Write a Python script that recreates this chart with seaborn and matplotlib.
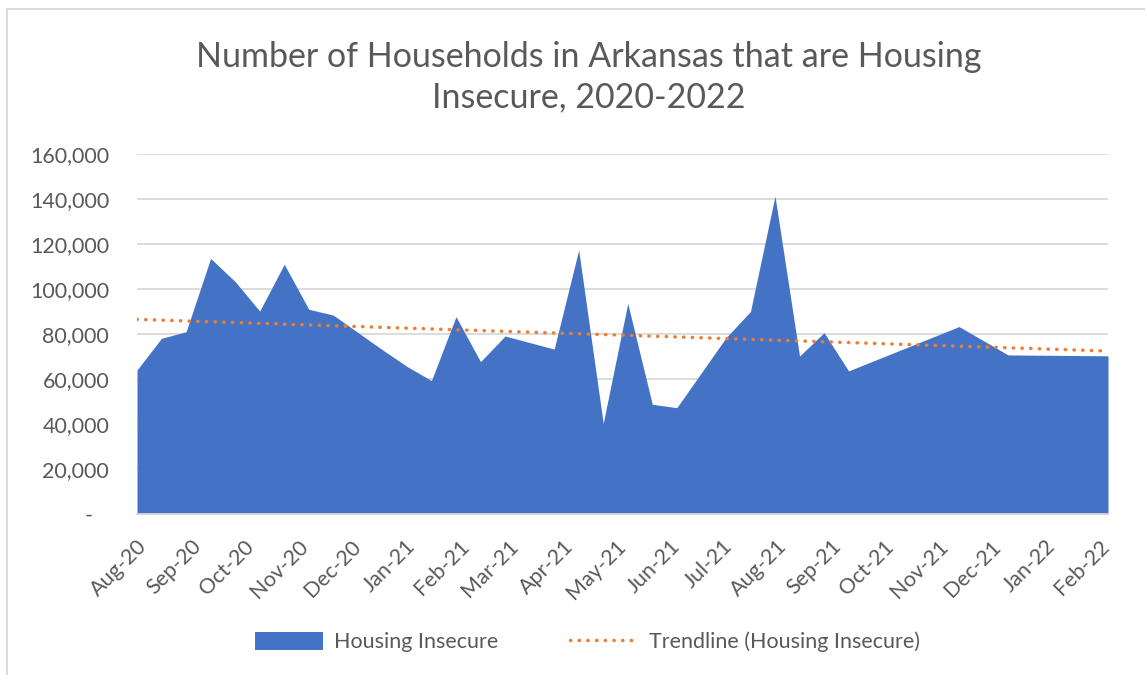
import numpy as np
import pandas as pd
import matplotlib.pyplot as plt
import matplotlib.dates as mdates
from matplotlib.lines import Line2D
from matplotlib.patches import Patch
import seaborn as sns

# survey week dates and number of housing insecure households
dates = ["2020-08-19", "2020-09-02", "2020-09-16", "2020-09-30", "2020-10-14",
         "2020-10-28", "2020-11-11", "2020-11-25", "2020-12-09", "2021-01-06",
         "2021-01-20", "2021-02-03", "2021-02-17", "2021-03-03", "2021-03-17",
         "2021-04-14", "2021-04-28", "2021-05-12", "2021-05-26", "2021-06-09",
         "2021-06-23", "2021-07-21", "2021-08-04", "2021-08-18", "2021-09-01",
         "2021-09-15", "2021-09-29", "2021-12-01", "2021-12-29", "2022-01-26",
         "2022-02-24"]
households = [64000, 78100, 81000, 113600, 103300,
              90200, 111000, 91000, 88400, 73000,
              65600, 59300, 87700, 67700, 79100,
              73300, 117300, 40300, 93600, 48750,
              47250, 78300, 90000, 141300, 70200,
              80600, 63600, 83300, 70700, 70500,
              70300]
y_ticks = [0, 20000, 40000, 60000, 80000, 100000, 120000, 140000, 160000]
title = "Number of Households in Arkansas that are Housing\nInsecure, 2020-2022"

area_color = "#4472C4"
trend_color = "#ED7D31"
text_color = "#595959"
dots = (0, (0.1, 2.4))

df = pd.DataFrame({"date": pd.to_datetime(dates), "households": households})
xnum = mdates.date2num(df["date"])
slope, icept = np.polyfit(xnum, df["households"], 1)
df["trend"] = slope * xnum + icept

sns.set_theme(style="white")
plt.rcParams["font.family"] = ["Lato", "DejaVu Sans"]

fig = plt.figure(figsize=(11.45, 6.75), dpi=100)
ax = fig.add_axes([137 / 1145, 1 - 514 / 675, (1108 - 137) / 1145, (514 - 154) / 675])

ax.fill_between(df["date"], 0, df["households"], color=area_color, lw=0, zorder=2)
sns.lineplot(data=df, x="date", y="trend", ax=ax, color=trend_color,
             linestyle=dots, dash_capstyle="round", lw=2.5, zorder=3)

ax.set_xlim(df["date"].iloc[0], df["date"].iloc[-1])
ax.set_ylim(0, 160000)
ax.set_yticks(y_ticks)
ax.set_yticklabels(["-   "] + [f"{v:,}" for v in y_ticks[1:]])
ax.yaxis.grid(True, color="#D9D9D9", lw=1.3, zorder=0)
ax.set_axisbelow(True)

ax.xaxis.set_major_locator(mdates.MonthLocator(bymonthday=19))
ax.xaxis.set_major_formatter(mdates.DateFormatter("%b-%y"))
for lbl in ax.get_xticklabels():
    lbl.set_rotation(45)
    lbl.set_ha("right")
    lbl.set_rotation_mode("anchor")

ax.tick_params(axis="both", length=0, labelsize=15.5, colors=text_color)
ax.tick_params(axis="y", pad=20)
ax.tick_params(axis="x", pad=16)
ax.set_xlabel("")
ax.set_ylabel("")
for s in ["top", "right", "left"]:
    ax.spines[s].set_visible(False)
ax.spines["bottom"].set_color("#D9D9D9")
ax.spines["bottom"].set_linewidth(1.3)

fig.text(0.514, 0.886, title, ha="center", va="center", fontsize=24.5,
         color=text_color, fontweight="normal", linespacing=1.3)

handles = [Patch(facecolor=area_color, edgecolor="none", label="Housing Insecure"),
           Line2D([0], [0], color=trend_color, linestyle=dots,
                  dash_capstyle="round", lw=2.5, label="Trendline (Housing Insecure)")]
fig.legend(handles=handles, loc="center", bbox_to_anchor=(0.513, 1 - 642 / 675),
           ncol=2, frameon=False, fontsize=15.5, labelcolor=text_color,
           handlelength=3.2, handleheight=0.9, columnspacing=3.3, handletextpad=0.5)

# chart border (left and top edges visible)
fig.add_artist(Line2D([7 / 1145, 7 / 1145], [0, 1 - 9 / 675], transform=fig.transFigure,
                      color="#D9D9D9", lw=1.3))
fig.add_artist(Line2D([7 / 1145, 1], [1 - 9 / 675, 1 - 9 / 675], transform=fig.transFigure,
                      color="#D9D9D9", lw=1.3))

fig.savefig("out.png", dpi=100)
